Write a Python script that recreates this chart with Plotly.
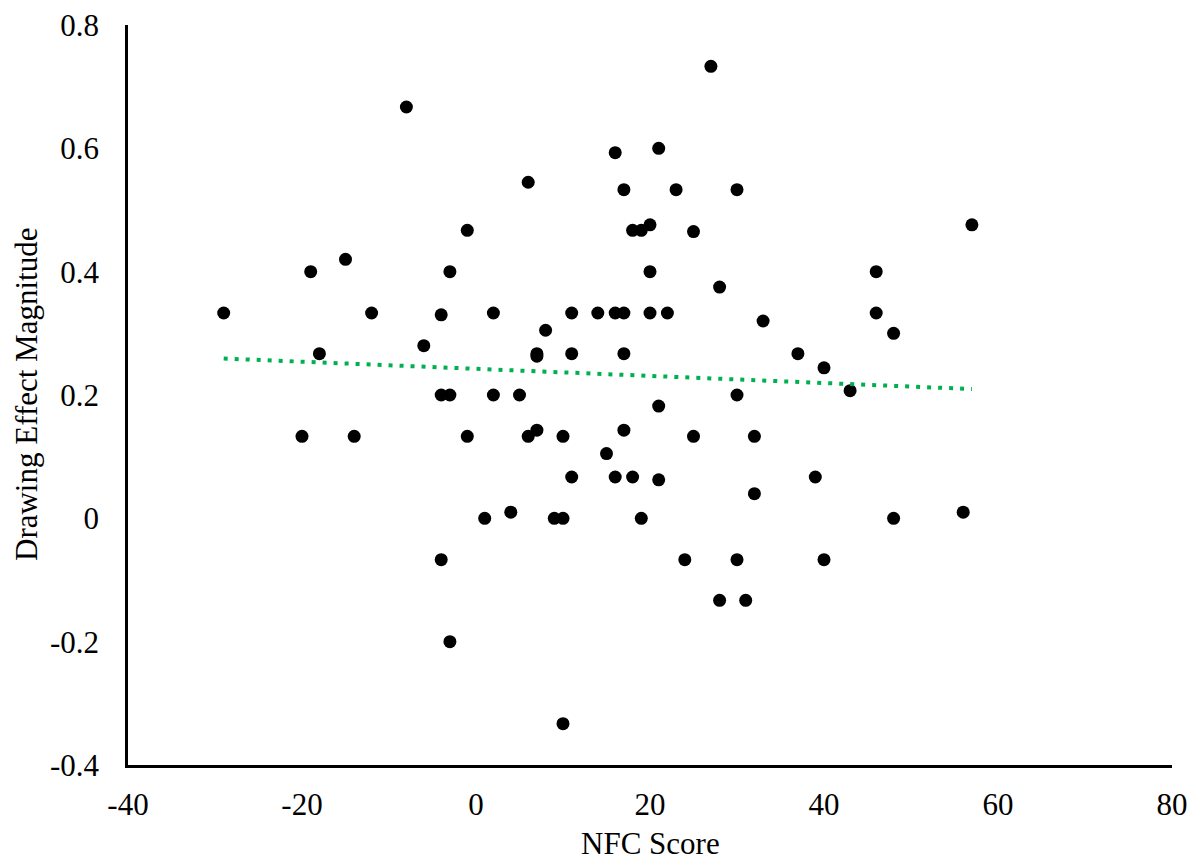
import numpy as np
import plotly.graph_objects as go

nfc_score = [-29, -20, -19, -18, -15, -14, -12, -8, -6, -4, -4, -4, -3, -3, -3,
             -1, -1, 1, 2, 2, 4, 5, 6, 6, 7, 7, 7, 8, 9, 10, 10, 10, 11, 11, 11,
             14, 15, 16, 16, 16, 17, 17, 17, 17, 18, 18, 19, 19, 20, 20, 20,
             21, 21, 21, 22, 23, 24, 25, 25, 27, 28, 28, 30, 30, 30, 31, 32, 32,
             33, 37, 39, 40, 40, 43, 46, 46, 48, 48, 56, 57]
drawing_effect = [0.333, 0.133, 0.4, 0.267, 0.42, 0.133, 0.333, 0.667, 0.28, 0.33, 0.2, -0.067,
                  0.4, 0.2, -0.2, 0.467, 0.133, 0.0, 0.333, 0.2, 0.01, 0.2, 0.545, 0.133,
                  0.267, 0.263, 0.143, 0.305, 0.0, 0.133, 0.0, -0.333, 0.333, 0.267, 0.067,
                  0.333, 0.105, 0.593, 0.333, 0.067, 0.533, 0.333, 0.267, 0.143, 0.467, 0.067,
                  0.467, 0.0, 0.476, 0.4, 0.333, 0.6, 0.182, 0.0625, 0.333, 0.533, -0.067,
                  0.465, 0.133, 0.733, 0.375, -0.133, 0.533, 0.2, -0.067, -0.133, 0.133, 0.04,
                  0.32, 0.267, 0.067, 0.244, -0.067, 0.207, 0.4, 0.333, 0.3, 0.0, 0.01, 0.476]

x_ticks = [-40, -20, 0, 20, 40, 60, 80]
x_tick_labels = ["-40", "-20", "0", "20", "40", "60", "80"]
y_ticks = [-0.4, -0.2, 0, 0.2, 0.4, 0.6, 0.8]
y_tick_labels = ["-0.4", "-0.2", "0", "0.2", "0.4", "0.6", "0.8"]
x_title = "NFC Score"
y_title = "Drawing Effect Magnitude"

# Linear trendline (least squares), as in the source
slope, intercept = np.polyfit(nfc_score, drawing_effect, 1)
trend_x = np.array([min(nfc_score), max(nfc_score)])
trend_y = slope * trend_x + intercept

font_family = "Liberation Serif, Times New Roman, serif"
fs = 31

fig = go.Figure()
fig.add_trace(go.Scatter(
    x=nfc_score, y=drawing_effect, mode="markers",
    marker=dict(color="black", size=13, line=dict(width=0)),
    showlegend=False,
))
fig.add_trace(go.Scatter(
    x=trend_x, y=trend_y, mode="lines",
    line=dict(color="#00B050", width=4, dash="4px,7px"),
    showlegend=False,
))

# page body has an 8px margin: figure is shrunk and margins compensated
fig.update_layout(
    width=1189, height=854,
    margin=dict(l=120, r=25, t=17, b=97),
    paper_bgcolor="white", plot_bgcolor="white",
    font=dict(family=font_family, size=fs, color="black"),
    xaxis=dict(
        range=[-40, 80], tickvals=x_ticks, ticktext=x_tick_labels,
        showgrid=False, zeroline=False, automargin=False,
        showline=True, linecolor="black", linewidth=2.5, ticks="",
        tickfont=dict(size=fs), ticklabelstandoff=10, ticklabeloverflow="allow",
    ),
    yaxis=dict(
        range=[-0.4, 0.8], tickvals=y_ticks, ticktext=y_tick_labels,
        showgrid=False, zeroline=False, automargin=False,
        showline=True, linecolor="black", linewidth=2.5, ticks="",
        tickfont=dict(size=fs), ticklabelstandoff=20, ticklabeloverflow="allow",
    ),
    annotations=[
        dict(text=x_title, xref="paper", yref="paper", x=0.5, y=0,
             xanchor="center", yanchor="middle", yshift=-78, showarrow=False,
             borderpad=0,
             font=dict(size=fs, family=font_family, color="black")),
        dict(text=y_title, xref="paper", yref="paper", x=0, y=0.5,
             xanchor="center", yanchor="middle", xshift=-102, textangle=-90,
             showarrow=False, borderpad=0,
             font=dict(size=fs, family=font_family, color="black")),
    ],
)

fig.write_html("out.html")
